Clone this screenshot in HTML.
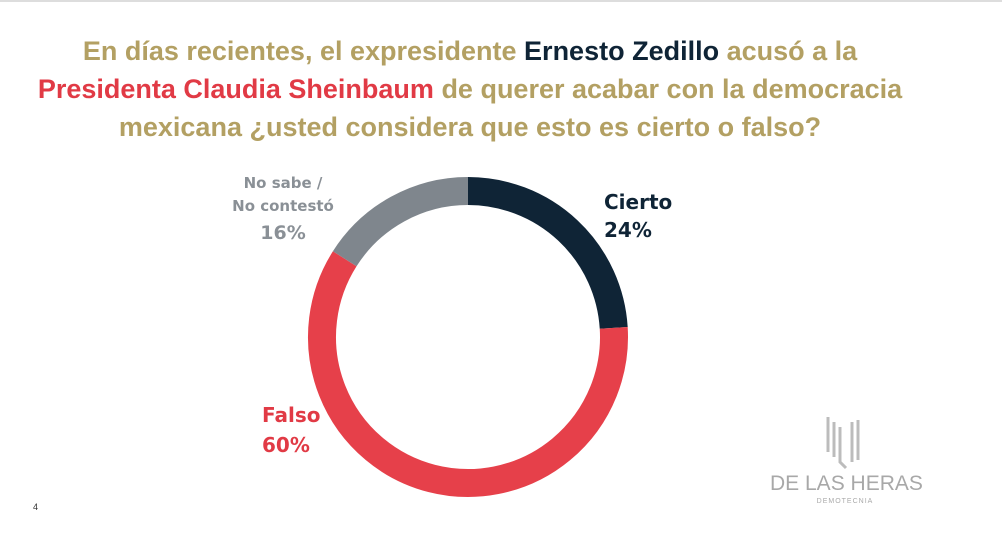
<!DOCTYPE html>
<html><head><meta charset="utf-8"><style>
body{margin:0;width:1002px;height:534px;background:#fff;overflow:hidden;position:relative;font-family:"Liberation Sans","DejaVu Sans",sans-serif}
#title{position:absolute;left:0;top:32px;width:940px;text-align:center;font-weight:bold;font-size:27px;line-height:38px;color:#b3a063}
.lbl{position:absolute;font-weight:bold;font-family:"DejaVu Sans","Liberation Sans",sans-serif;white-space:nowrap}
</style></head><body>
<div style="position:absolute;left:0;top:0;width:1002px;height:2px;background:#ddd"></div>
<div id="title">En días recientes, el expresidente <span style="color:#0f2436">Ernesto Zedillo</span> acusó a la<br><span style="color:#e13a45">Presidenta Claudia Sheinbaum</span> de querer acabar con la democracia<br>mexicana ¿usted considera que esto es cierto o falso?</div>
<svg id="chart" width="1002" height="534" style="position:absolute;left:0;top:0"></svg>
<div class="lbl" style="left:604px;top:188px;font-size:20px;line-height:28px;color:#0f2436;text-align:left">Cierto<br>24%</div>
<div class="lbl" style="left:223px;top:172px;width:120px;font-size:15px;line-height:23px;color:#8a9096;text-align:center">No sabe /<br>No contestó<br><span style="font-size:19px;line-height:30px">16%</span></div>
<div class="lbl" style="left:262px;top:400px;font-size:20px;line-height:30px;color:#e13a45">Falso<br>60%</div>
<div style="position:absolute;left:33px;top:502px;font-size:9px;color:#333">4</div>
<div style="position:absolute;left:770px;top:412px;width:150px;height:110px">
<svg width="150" height="60" style="position:absolute;left:0;top:0"><g stroke="#bcbcbc" stroke-width="3" fill="none"><path d="M58 5V40M64 10V45M70 15V50L76 56M82 10V50M88 8V48"/></g></svg>
<div style="position:absolute;left:0;top:60px;width:150px;text-align:center;font-size:21px;color:#a8a8a8;white-space:nowrap">DE LAS HERAS</div>
<div style="position:absolute;left:0;top:86px;width:150px;text-align:center;font-size:7px;letter-spacing:1px;color:#aaa">DEMOTECNIA</div>
</div>
<script>
const categories=["Cierto","Falso","No sabe / No contestó"];
const values=[24,60,16];
const colors=["#0f2436","#e6404a","#7f868d"];
const svg=document.getElementById('chart');
const cx=468,cy=337,r=146,sw=28;
const total=values.reduce((a,b)=>a+b,0);
let start=0;
values.forEach((v,i)=>{
  const a0=start/total*2*Math.PI,a1=(start+v)/total*2*Math.PI;start+=v;
  const x0=cx+r*Math.sin(a0),y0=cy-r*Math.cos(a0),x1=cx+r*Math.sin(a1),y1=cy-r*Math.cos(a1);
  const p=document.createElementNS('http://www.w3.org/2000/svg','path');
  p.setAttribute('d',`M${x0} ${y0}A${r} ${r} 0 ${a1-a0>Math.PI?1:0} 1 ${x1} ${y1}`);
  p.setAttribute('fill','none');p.setAttribute('stroke',colors[i]);p.setAttribute('stroke-width',sw);
  
  
  svg.appendChild(p);
});
</script>
</body></html>
